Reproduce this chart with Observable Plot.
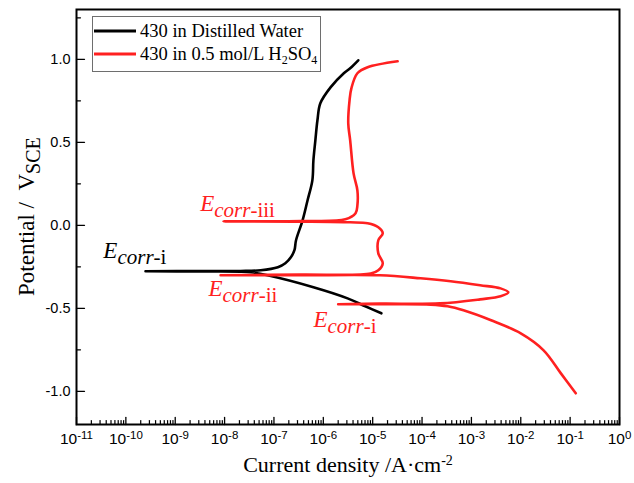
<!DOCTYPE html>
<html><head><meta charset="utf-8">
<script src="https://cdn.jsdelivr.net/npm/d3@7"></script>
<script src="https://cdn.jsdelivr.net/npm/@observablehq/plot@0.6"></script>
<style>
body{margin:0;background:#fff;}
#wrap{position:relative;width:634px;height:483px;overflow:hidden;}
#legend{position:absolute;left:92px;top:16px;width:229px;height:56px;border:1px solid #6e6e6e;box-sizing:border-box;background:#fff;font-family:"Liberation Serif",serif;font-size:18.5px;color:#000;}
#legend .row{position:absolute;left:0;height:20px;white-space:nowrap;}
#legend svg{position:absolute;left:0;top:0;}
#legend span{position:absolute;left:47px;top:0;line-height:20px;}
#legend sub{font-size:12px;vertical-align:-4px;line-height:0;}
</style></head><body><div id="wrap"></div>
<script>
// ---- data ----
const seriesNames = ["430 in Distilled Water", "430 in 0.5 mol/L H2SO4"];
const seriesColors = ["#000000", "#ff2020"];

// 430 in distilled water (current density A/cm2, potential V vs SCE), scan order
const waterCurrent = [1.5e-5, 7.1e-6, 3.1e-6, 6.3e-7, 7.4e-8, 3.4e-8, 2.1e-8, 3.2e-9, 2.5e-10,
  3.2e-9, 2.1e-8, 5.4e-8, 1.2e-7, 1.7e-7, 2.2e-7, 2.6e-7, 2.8e-7, 3.8e-7, 4.8e-7, 6.0e-7,
  6.3e-7, 6.9e-7, 7.6e-7, 8.7e-7, 1.4e-6, 2.6e-6, 3.5e-6, 5.1e-6];
const waterPotential = [-0.530, -0.488, -0.440, -0.373, -0.301, -0.283, -0.279, -0.278, -0.277,
  -0.275, -0.275, -0.271, -0.253, -0.229, -0.193, -0.150, -0.090, 0.030, 0.151, 0.271,
  0.392, 0.512, 0.633, 0.735, 0.831, 0.916, 0.946, 0.994];

// 430 in 0.5 mol/L H2SO4, scan order
const acidCurrent = [0.13, 0.065, 0.029, 0.010, 2.5e-3, 6.9e-4, 3.3e-4, 1.5e-4, 1.4e-5, 2.0e-6,
  1.4e-5, 2.3e-4, 1.5e-3, 3.9e-3, 5.6e-3, 3.9e-3, 1.5e-3, 3.8e-4, 9.3e-5, 1.4e-5, 3.5e-7, 8.3e-9,
  3.5e-7, 9.1e-6, 1.3e-5, 1.6e-5, 1.3e-5, 1.3e-5, 1.6e-5, 1.3e-5, 7.9e-6, 3.5e-6, 3.5e-7, 9.5e-9,
  3.5e-7, 2.8e-6, 4.5e-6, 4.9e-6, 4.9e-6, 4.1e-6, 3.5e-6, 3.2e-6, 3.4e-6, 3.7e-6, 4.9e-6, 7.9e-6, 3.2e-5];
const acidPotential = [-1.012, -0.892, -0.753, -0.651, -0.572, -0.512, -0.488, -0.478, -0.476, -0.476,
  -0.472, -0.470, -0.446, -0.428, -0.404, -0.380, -0.361, -0.337, -0.319, -0.301, -0.301, -0.301,
  -0.297, -0.291, -0.271, -0.229, -0.169, -0.090, -0.048, -0.012, 0.012, 0.018, 0.022, 0.024,
  0.026, 0.036, 0.072, 0.120, 0.211, 0.313, 0.512, 0.614, 0.753, 0.825, 0.916, 0.952, 0.988];

// E_corr annotations
const ecorrSuffix = ["i", "iii", "ii", "i"];
const ecorrSeries = [0, 1, 1, 1];
const ecorrCurrent = [3.5e-11, 3.2e-9, 4.7e-9, 6.3e-7];
const ecorrPotential = [-0.199, 0.084, -0.428, -0.614];

// axes
const xDomain = [1e-11, 1];
const yDomain = [-1.2, 1.3];
const xExponents = [-11, -10, -9, -8, -7, -6, -5, -4, -3, -2, -1, 0];
const yTickValues = [-1.0, -0.5, 0.0, 0.5, 1.0];
const yMinorValues = [-0.75, -0.25, 0.25, 0.75, 1.25];
const xTitle = "Current density /A·cm";
const xTitleSup = "-2";
const yTitle = "Potential\u00a0/\u00a0\u00a0V";
const yTitleSub = "SCE";

// ---- build ----
const xMajor = xExponents.map(e => Math.pow(10, e));
const xMinor = xExponents.slice(0, -1).flatMap(e => d3.range(2, 10).map(m => m * Math.pow(10, e)));
const waterRows = waterCurrent.map((c, i) => ({c, v: waterPotential[i]}));
const acidRows = acidCurrent.map((c, i) => ({c, v: acidPotential[i]}));
const ecorrRows = ecorrSuffix.map((s, i) => ({s, k: ecorrSeries[i], c: ecorrCurrent[i], v: ecorrPotential[i]}));

const tickUp = {draw(ctx, l) { ctx.moveTo(0, 0); ctx.lineTo(0, -l); }};
const serif = "Liberation Serif";

const chart = Plot.plot({
  width: 634, height: 483,
  marginLeft: 76, marginRight: 15, marginTop: 9, marginBottom: 59,
  x: {type: "log", domain: xDomain},
  y: {domain: yDomain},
  style: {fontFamily: "Liberation Sans", fontSize: "14px", color: "#000", background: "#fff"},
  marks: [
    Plot.line(waterRows, {x: "c", y: "v", stroke: seriesColors[0], strokeWidth: 2.6, curve: "catmull-rom"}),
    Plot.line(acidRows, {x: "c", y: "v", stroke: seriesColors[1], strokeWidth: 2.6, curve: "catmull-rom"}),
    Plot.axisX({ticks: xMajor, tickSize: 0, tickPadding: 9, tickFormat: d => String(Math.round(Math.log10(d))), label: null, fontSize: 15}),
    Plot.axisY({ticks: yTickValues, tickSize: 0, tickPadding: 6, tickFormat: d => d.toFixed(1), label: null, fontSize: 14.5}),
    Plot.vector(xMajor, {x: d => d, frameAnchor: "bottom", length: 7, rotate: 0, anchor: "start", shape: tickUp, stroke: "#000", strokeWidth: 1.3}),
    Plot.vector(xMinor, {x: d => d, frameAnchor: "bottom", length: 4, rotate: 0, anchor: "start", shape: tickUp, stroke: "#000", strokeWidth: 1.2}),
    Plot.vector(yTickValues, {y: d => d, frameAnchor: "left", length: 8, rotate: 90, anchor: "start", shape: tickUp, stroke: "#000", strokeWidth: 1.3}),
    Plot.vector(yMinorValues, {y: d => d, frameAnchor: "left", length: 4, rotate: 90, anchor: "start", shape: tickUp, stroke: "#000", strokeWidth: 1.2}),
    Plot.frame({stroke: "#000", strokeWidth: 2}),
    Plot.text(ecorrRows.filter(d => d.k === 0), {x: "c", y: "v", text: d => "E|corr|-" + d.s, fill: seriesColors[0], textAnchor: "start", lineAnchor: "bottom", fontFamily: serif, fontSize: 21, className: "ecorr"}),
    Plot.text(ecorrRows.filter(d => d.k === 1), {x: "c", y: "v", text: d => "E|corr|-" + d.s, fill: seriesColors[1], textAnchor: "start", lineAnchor: "bottom", fontFamily: serif, fontSize: 21, className: "ecorr"})
  ]
});

const svg = d3.select(chart);
// superscript exponents on x tick labels
svg.selectAll('g[aria-label="x-axis tick label"] text').each(function() {
  const e = this.textContent;
  const t = d3.select(this);
  t.text(null);
  t.append("tspan").attr("font-size", "15.5px").text("10");
  t.append("tspan").attr("dy", "-0.45em").attr("font-size", "11.5px").text(e);
});
// E_corr labels with italic subscript
svg.selectAll("g.ecorr text").each(function() {
  const parts = this.textContent.split("|");
  const t = d3.select(this);
  t.text(null);
  t.append("tspan").attr("font-style", "italic").attr("font-size", "23px").text(parts[0]);
  t.append("tspan").attr("font-style", "italic").attr("font-size", "21px").attr("dy", "6").text(parts[1]);
  t.append("tspan").attr("font-size", "21px").text(parts[2]);
});
// axis titles
const xt = svg.append("text").attr("x", 348).attr("y", 472).attr("text-anchor", "middle")
  .attr("font-family", serif).attr("font-size", 22).attr("fill", "#000");
xt.append("tspan").text(xTitle);
xt.append("tspan").attr("dy", "-0.5em").attr("font-size", 14).text(xTitleSup);
const yt = svg.append("text").attr("transform", "translate(34,296) rotate(-90)").attr("text-anchor", "start")
  .attr("font-family", serif).attr("font-size", 23).attr("fill", "#000");
yt.append("tspan").text(yTitle);
yt.append("tspan").attr("dy", "0.3em").attr("font-size", 20).text(yTitleSub);

const wrap = document.getElementById("wrap");
wrap.appendChild(chart);

// legend
const legend = document.createElement("div");
legend.id = "legend";
const legendLabels = [
  seriesNames[0],
  "430 in 0.5 mol/L H<sub>2</sub>SO<sub>4</sub>"
];
legendLabels.forEach((html, i) => {
  const row = document.createElement("div");
  row.className = "row";
  row.style.top = (4 + i * 23) + "px";
  row.style.width = "225px";
  row.innerHTML = `<svg width="44" height="20"><line x1="1" x2="43" y1="10" y2="10" stroke="${seriesColors[i]}" stroke-width="3"/></svg><span>${html}</span>`;
  legend.appendChild(row);
});
wrap.appendChild(legend);
</script>
</body></html>
